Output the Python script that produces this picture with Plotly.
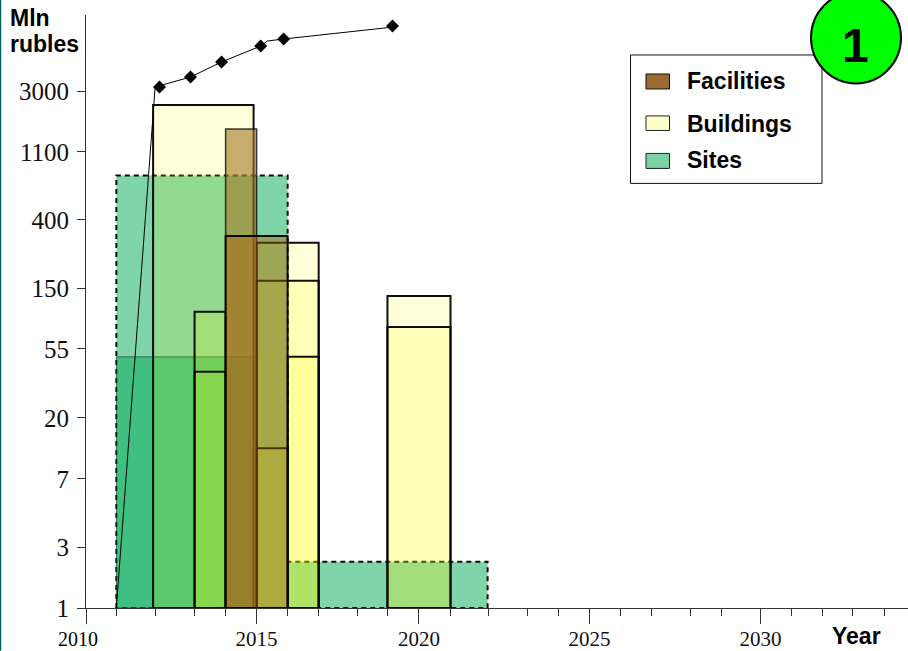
import plotly.graph_objects as go

# ---------- data ----------
sites_x0 = [2010.90, 2010.90, 2015.98]
sites_x1 = [2015.98, 2015.06, 2021.91]
sites_top = [812, 48.9, 2.05]
sites_dash = ["5px,4px", "solid", "5px,4px"]

buildings_x0 = [2011.99, 2015.06, 2015.06, 2015.98, 2013.22, 2013.22, 2015.06, 2018.94, 2018.94]
buildings_x1 = [2014.97, 2016.90, 2016.90, 2016.90, 2014.14, 2014.14, 2015.98, 2020.81, 2020.81]
buildings_top = [2418, 286, 159, 48.9, 98.2, 38.8, 11.87, 125.7, 77.8]

facilities_x0 = [2014.14, 2014.14]
facilities_x1 = [2015.06, 2015.98]
facilities_top = [1669, 318]

cum_line_x = [2010.90, 2012.05, 2013.10, 2014.02, 2015.18, 2015.38, 2015.86, 2019.09]
cum_line_y = [1, 3197, 3730, 4710, 6028, 6517, 6722, 8080]
cum_mark_x = [2012.18, 2013.10, 2014.02, 2015.18, 2015.86, 2019.09]
cum_mark_y = [3197, 3730, 4710, 6028, 6722, 8218]

y_tick_vals = [1, 2.57, 7.40, 19.0, 55.4, 142, 408, 1169, 2990]
y_tick_text = ["1", "3", "7", "20", "55", "150", "400", "1100", "3000"]

x_major_vals = [2010, 2015.06, 2019.875, 2024.93, 2030.0]
x_major_text = ["", "2015", "2020", "2025", "2030"]
x_minor_vals = [2010.90, 2012.06, 2013.218, 2014.137, 2015.976, 2016.895, 2018.037, 2018.941,
                2020.81, 2021.94, 2023.09, 2024.01, 2025.85, 2026.77, 2027.93, 2028.85,
                2030.92, 2031.84, 2032.73, 2033.68]

legend_names = ["Facilities", "Buildings", "Sites"]

# ---------- layout geometry ----------
W, H = 908, 651
L, T, B = 86.0, 15.0, 42.7
PW, PH = W - L, H - T - B


def px(x):
    return (x - L) / PW


def py(y):
    return (H - B - y) / PH


fig = go.Figure()


def rects(name, x0s, x1s, tops, fills, line_colors, widths, dashes):
    for a, b, t, f, c, w, d in zip(x0s, x1s, tops, fills, line_colors, widths, dashes):
        fig.add_trace(go.Scatter(
            x=[a, a, b, b, a], y=[1, t, t, 1, 1], mode="lines", fill="toself",
            fillcolor=f, line=dict(color=c, width=w, dash=d),
            name=name, showlegend=False, cliponaxis=False, hoverinfo="name"))


rects("Sites", sites_x0, sites_x1, sites_top, ["rgba(0,170,85,0.5)"] * 3,
      ["rgba(0,0,0,0.95)", "rgba(0,0,0,0.5)", "rgba(0,0,0,0.95)"], [2, 1, 2], sites_dash)
rects("Buildings", buildings_x0, buildings_x1, buildings_top, ["rgba(255,255,0,0.15)"] * 9,
      ["rgba(0,0,0,0.95)"] * 9, [2] * 9, ["solid"] * 9)
rects("Facilities", facilities_x0, facilities_x1, facilities_top,
      ["rgba(163,118,40,0.6)", "rgba(170,100,15,0.45)"],
      ["rgba(0,0,0,0.75)", "rgba(0,0,0,0.95)"], [1.5, 2], ["solid", "solid"])

fig.add_trace(go.Scatter(x=cum_line_x, y=cum_line_y, mode="lines", name="Total",
                         line=dict(color="black", width=1), showlegend=False, cliponaxis=False))
fig.add_trace(go.Scatter(x=cum_mark_x, y=cum_mark_y, mode="markers", name="Total",
                         marker=dict(symbol="diamond", size=10, color="black"),
                         showlegend=False, cliponaxis=False))

serif = "Liberation Serif"
sans = "Liberation Sans"


def pshape(kind, x0, y0, x1, y1, **kw):
    return dict(type=kind, xref="paper", yref="paper", x0=px(x0), x1=px(x1),
                y0=py(y0), y1=py(y1), **kw)


shapes = [
    pshape("rect", 0, 0, 1.2, 651, fillcolor="#00605f", line=dict(width=0)),
    pshape("rect", 630.5, 55, 822, 183.5, fillcolor="white", line=dict(color="#111", width=1)),
    pshape("rect", 646, 74, 669.5, 89, fillcolor="#9c6a35", line=dict(color="#111", width=1)),
    pshape("rect", 646, 116, 669.5, 130.5, fillcolor="#ffffcc", line=dict(color="#222", width=1)),
    pshape("rect", 646, 153.5, 669.5, 168.5, fillcolor="#7bd3a2", line=dict(color="#222", width=1)),
    pshape("circle", 811, -8, 901, 83.5, fillcolor="#00ff00", line=dict(color="black", width=2)),
]


def note(text, x, y, size, family=sans, bold=True, anchor="left"):
    return dict(text=f"<b>{text}</b>" if bold else text, xref="paper", yref="paper",
                x=px(x), y=py(y), xanchor=anchor, yanchor="middle", showarrow=False,
                font=dict(family=family, size=size, color="black"))


annotations = [
    note("Mln", 8, 18, 23),
    note("rubles", 8, 44, 23),
    note("Year", 830, 636, 23),
    note("2010", 78, 639, 20, family=serif, bold=False, anchor="center"),
    note(legend_names[0], 685, 81, 23),
    note(legend_names[1], 685, 124.5, 23),
    note(legend_names[2], 685, 160, 23),
    note("1", 855, 46, 48, anchor="center"),
]

fig.update_layout(
    width=W, height=H, autosize=False,
    margin=dict(l=L, r=0, t=T, b=B, pad=0),
    paper_bgcolor="white", plot_bgcolor="white",
    showlegend=False, shapes=shapes, annotations=annotations,
    xaxis=dict(
        automargin=False,
        range=[2010, 2010 + PW / 33.72], tickmode="array",
        tickvals=x_major_vals, ticktext=x_major_text,
        ticks="outside", ticklen=15, tickcolor="#333", tickwidth=1,
        tickfont=dict(family=serif, size=21, color="#111"),
        ticklabelstandoff=-3,
        showline=True, linecolor="#333", linewidth=1,
        showgrid=False, zeroline=False,
        minor=dict(tickmode="array", tickvals=x_minor_vals, ticks="outside",
                   ticklen=7, tickcolor="#333", tickwidth=1, showgrid=False),
    ),
    yaxis=dict(
        automargin=False,
        type="log", range=[0, 3.989], tickmode="array",
        tickvals=y_tick_vals, ticktext=y_tick_text,
        ticks="outside", ticklen=8, tickcolor="#333", tickwidth=1,
        tickfont=dict(family=serif, size=25, color="#111"),
        ticklabelstandoff=3,
        showline=True, linecolor="#333", linewidth=1,
        showgrid=False, zeroline=False,
    ),
)

fig.write_html("out.html", config={"displayModeBar": False},
               post_script="document.body.style.margin='0';document.body.style.overflow='hidden';")
